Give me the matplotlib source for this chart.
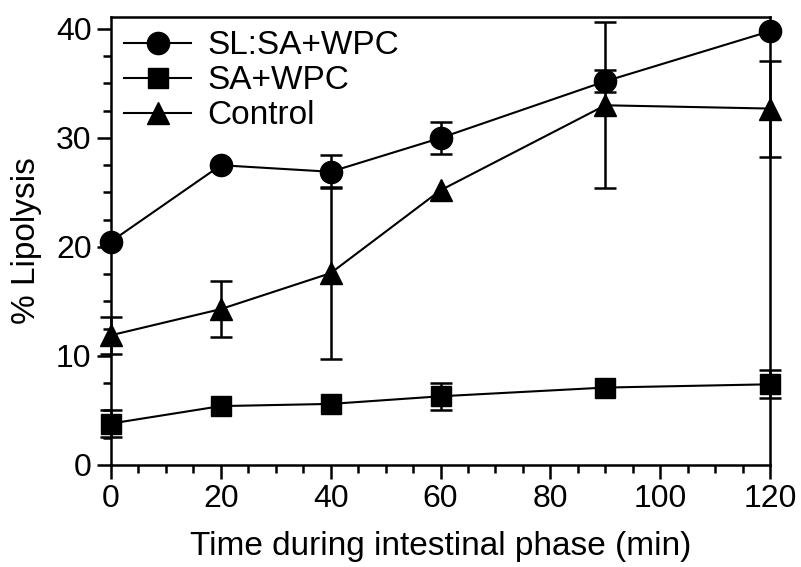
import matplotlib.pyplot as plt
from matplotlib.ticker import MultipleLocator

plt.rcParams['font.family'] = ['Liberation Sans', 'DejaVu Sans']

nan = float('nan')  # error bar hidden behind the marker in the original

time = [0, 20, 40, 60, 90, 120]

sl_mean = [20.5, 27.5, 26.9, 30.0, 35.2, 39.8]
sl_err = [nan, nan, 1.5, 1.45, 1.0, nan]

sa_mean = [3.8, 5.4, 5.6, 6.3, 7.1, 7.4]
sa_err = [1.2, nan, nan, 1.25, nan, 1.3]

ctrl_mean = [11.9, 14.3, 17.6, 25.2, 33.0, 32.7]
ctrl_err = [1.7, 2.6, 7.9, nan, 7.6, 4.4]

labels = ['SL:SA+WPC', 'SA+WPC', 'Control']

fig = plt.figure(figsize=(8.01, 5.67), dpi=100)
ax = fig.add_axes([0.1386, 0.18, 0.8227, 0.79])

style = dict(color='black', lw=1.5, capsize=8, capthick=1.8, elinewidth=1.8,
             clip_on=False, zorder=3)
series = [
    (sl_mean, sl_err, 'o', 16),
    (sa_mean, sa_err, 's', 15),
    (ctrl_mean, ctrl_err, '^', 16),
]
handles = []
for mean, err, marker, ms in series:
    eb = ax.errorbar(time, mean, yerr=err, marker=marker, ms=ms, **style)
    for part in eb.lines[1] + eb.lines[2]:
        part.set_clip_on(False)
    eb[0].set_zorder(4)
    handles.append(eb[0])

ax.set_xlim(0, 120)
ax.set_ylim(0, 41.1)
ax.xaxis.set_major_locator(MultipleLocator(20))
ax.xaxis.set_minor_locator(MultipleLocator(5))
ax.yaxis.set_major_locator(MultipleLocator(10))
ax.yaxis.set_minor_locator(MultipleLocator(2.5))
ax.tick_params(which='major', direction='out', length=10, width=1.8,
               labelsize=23, pad=4)
ax.tick_params(which='minor', direction='out', length=6, width=1.8)
for sp in ax.spines.values():
    sp.set_linewidth(1.8)

ax.set_xlabel('Time during intestinal phase (min)', fontsize=24, labelpad=12)
ax.set_ylabel('% Lipolysis', fontsize=24, labelpad=10)

ax.legend(handles, labels, loc='upper left', frameon=False, fontsize=24,
          handlelength=2.0, handletextpad=0.5, labelspacing=0.12,
          borderaxespad=0.0, bbox_to_anchor=(0.0, 1.0))

fig.savefig('out.png', dpi=100)
